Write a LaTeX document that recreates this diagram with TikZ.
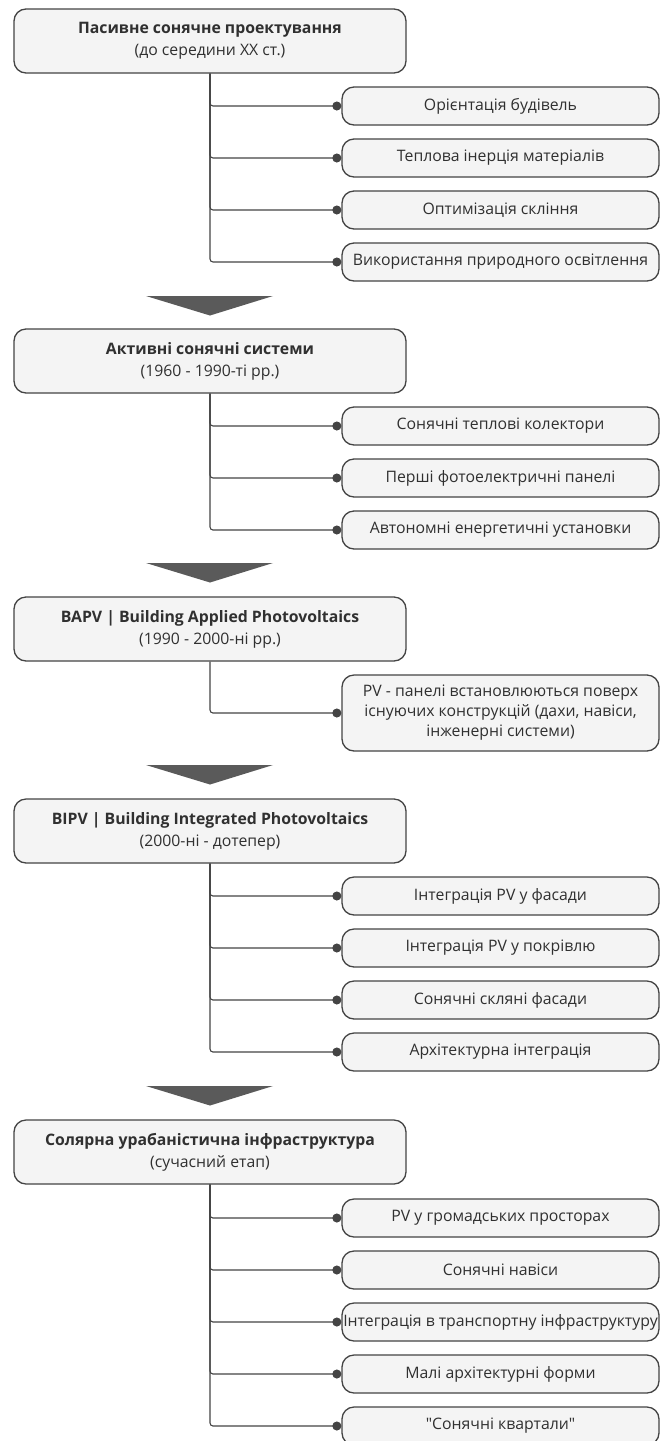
\documentclass[tikz,border=0pt]{standalone}
\usepackage{fontspec}
\setmainfont{Open Sans}[Ligatures=TeXOff]
\usetikzlibrary{arrows.meta, positioning, calc}
\definecolor{sirij}{HTML}{444444}
\definecolor{svitlosirij}{HTML}{F4F4F4}
\definecolor{temnosirij}{HTML}{5A5A5A}
\definecolor{tekst}{HTML}{303030}

\begin{document}
\begin{tikzpicture}[
  x=1pt, y=1pt,
  font=\fontsize{15.8}{20}\selectfont,
  etap/.style={rectangle, rounded corners=12pt, draw=sirij, line width=1.3pt, fill=svitlosirij,
               minimum width=392pt, minimum height=64pt, align=center, inner sep=2pt, text=tekst},
  punkt/.style={rectangle, rounded corners=12pt, draw=sirij, line width=1.3pt, fill=svitlosirij,
               minimum width=317pt, minimum height=38pt, align=center, inner sep=1pt, text=tekst},
  lin/.style={-{Circle[length=9pt]}, line width=1.1pt, sirij, rounded corners=3pt},
  strilka/.style={fill=temnosirij, draw=none},
]
\useasboundingbox (0,0) rectangle (661,-1441);

% --- Етап 1: пасивне проектування ---
\node[etap] (e1) at (210,-41) {\textbf{Пасивне сонячне проектування}\\[2pt](до середини XX ст.)};
\node[punkt] (e1a) at (500.5,-106) {Орієнтація будівель};
\node[punkt] (e1b) at (500.5,-158) {Теплова інерція матеріалів};
\node[punkt] (e1c) at (500.5,-210) {Оптимізація скління};
\node[punkt] (e1d) at (500.5,-262) {Використання природного освітлення};
\draw[lin] (e1.south) |- (e1a.west);
\draw[lin] (e1.south) |- (e1b.west);
\draw[lin] (e1.south) |- (e1c.west);
\draw[lin] (e1.south) |- (e1d.west);
\fill[strilka] (146,-296) -- (273,-296) -- (210,-315.5) -- cycle;

% --- Етап 2: активні системи ---
\node[etap] (e2) at (210,-361) {\textbf{Активні сонячні системи}\\[2pt](1960 - 1990-ті рр.)};
\node[punkt] (e2a) at (500.5,-426) {Сонячні теплові колектори};
\node[punkt] (e2b) at (500.5,-478) {Перші фотоелектричні панелі};
\node[punkt] (e2c) at (500.5,-530) {Автономні енергетичні установки};
\draw[lin] (e2.south) |- (e2a.west);
\draw[lin] (e2.south) |- (e2b.west);
\draw[lin] (e2.south) |- (e2c.west);
\fill[strilka] (146,-563) -- (273,-563) -- (210,-582.5) -- cycle;

% --- Етап 3: BAPV ---
\node[etap] (e3) at (210,-629) {\textbf{BAPV | Building Applied Photovoltaics}\\[2pt](1990 - 2000-ні рр.)};
\node[punkt, minimum height=76pt] (e3a) at (500.5,-713) {PV - панелі встановлюються поверх\\існуючих конструкцій (дахи, навіси,\\інженерні системи)};
\draw[lin] (e3.south) |- (e3a.west);
\fill[strilka] (146,-765) -- (273,-765) -- (210,-784.5) -- cycle;

% --- Етап 4: BIPV ---
\node[etap] (e4) at (210,-831) {\textbf{BIPV | Building Integrated Photovoltaics}\\[2pt](2000-ні - дотепер)};
\node[punkt] (e4a) at (500.5,-896) {Інтеграція PV у фасади};
\node[punkt] (e4b) at (500.5,-948) {Інтеграція PV у покрівлю};
\node[punkt] (e4c) at (500.5,-1000) {Сонячні скляні фасади};
\node[punkt] (e4d) at (500.5,-1052) {Архітектурна інтеграція};
\draw[lin] (e4.south) |- (e4a.west);
\draw[lin] (e4.south) |- (e4b.west);
\draw[lin] (e4.south) |- (e4c.west);
\draw[lin] (e4.south) |- (e4d.west);
\fill[strilka] (146,-1086) -- (273,-1086) -- (210,-1105.5) -- cycle;

% --- Етап 5: урбаністична інфраструктура ---
\node[etap] (e5) at (210,-1152) {\textbf{Солярна урабаністична інфраструктура}\\[2pt](сучасний етап)};
\node[punkt] (e5a) at (500.5,-1218) {PV у громадських просторах};
\node[punkt] (e5b) at (500.5,-1270) {Сонячні навіси};
\node[punkt] (e5c) at (500.5,-1322) {Інтеграція в транспортну інфраструктуру};
\node[punkt] (e5d) at (500.5,-1374) {Малі архітектурні форми};
\node[punkt] (e5e) at (500.5,-1426) {"Сонячні квартали"};
\draw[lin] (e5.south) |- (e5a.west);
\draw[lin] (e5.south) |- (e5b.west);
\draw[lin] (e5.south) |- (e5c.west);
\draw[lin] (e5.south) |- (e5d.west);
\draw[lin] (e5.south) |- (e5e.west);

\end{tikzpicture}
\end{document}
